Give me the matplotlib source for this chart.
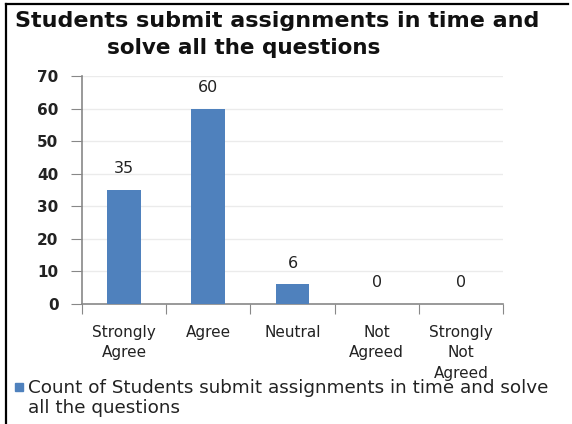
import matplotlib
matplotlib.use("Agg")
import matplotlib.pyplot as plt
from matplotlib.lines import Line2D
from matplotlib.patches import Rectangle

categories = ["Strongly\nAgree", "Agree", "Neutral", "Not\nAgreed", "Strongly\nNot\nAgreed"]
values = [35, 60, 6, 0, 0]
y_ticks = [0, 10, 20, 30, 40, 50, 60, 70]
title_lines = ["Students submit assignments in time and", "solve all the questions"]
legend_text = "Count of Students submit assignments in time and solve\nall the questions"
bar_color = "#4F81BD"

fig = plt.figure(figsize=(5.72, 4.24), dpi=100)
ax = fig.add_axes([82/572, 1-304/424, (503-82)/572, (304-76)/424])

x = list(range(len(categories)))
bars = ax.bar(x, values, width=0.4, color=bar_color, zorder=3)
for xi, v in zip(x, values):
    ax.annotate(str(v), (xi, v), xytext=(0, 10), textcoords="offset points",
                ha="center", va="bottom", fontsize=11.5, color="#222222")

ax.set_xlim(-0.5, len(categories)-0.5)
ax.set_ylim(0, 70)
ax.set_yticks(y_ticks)
ax.set_yticklabels([str(t) for t in y_ticks], fontsize=11, fontweight="bold", color="#222222")
ax.set_xticks([i - 0.5 for i in range(len(categories)+1)])
ax.set_xticklabels([])
ax.set_xticks(x, minor=True)
ax.set_xticklabels(categories, minor=True, fontsize=11, color="#222222", linespacing=1.45, va="top")
ax.tick_params(axis="x", which="minor", length=0, pad=15)
ax.tick_params(axis="x", which="major", length=7, color="#888888", direction="out")
ax.tick_params(axis="y", length=8, color="#888888", direction="out", pad=9)
ax.yaxis.grid(True, color="#ebebeb", linewidth=1, zorder=0)
for s in ["top", "right"]:
    ax.spines[s].set_visible(False)
ax.spines["left"].set_color("#888888")
ax.spines["bottom"].set_color("#888888")
ax.spines["left"].set_linewidth(1.2)
ax.spines["bottom"].set_linewidth(1.2)

fig.text(277/572, 1 - 21/424, title_lines[0], ha="center", va="center", fontsize=16,
         fontweight="bold", color="#111111")
fig.text(244/572, 1 - 48/424, title_lines[1], ha="center", va="center", fontsize=15.5,
         fontweight="bold", color="#111111")

fig.patches.append(Rectangle((15/572, 1-391/424), 8/572, 8/424, transform=fig.transFigure,
                             color=bar_color, figure=fig))
fig.text(28/572, 1 - 398/424, legend_text, ha="left", va="center", fontsize=13.2,
         color="#222222", linespacing=1.1)

fig.add_artist(Line2D([6/572, 6/572], [0, 1-4/424], color="black", lw=1.6, transform=fig.transFigure))
fig.add_artist(Line2D([6/572, 568/572], [1-4/424, 1-4/424], color="black", lw=1.6, transform=fig.transFigure))

fig.savefig("out.png", dpi=100)
